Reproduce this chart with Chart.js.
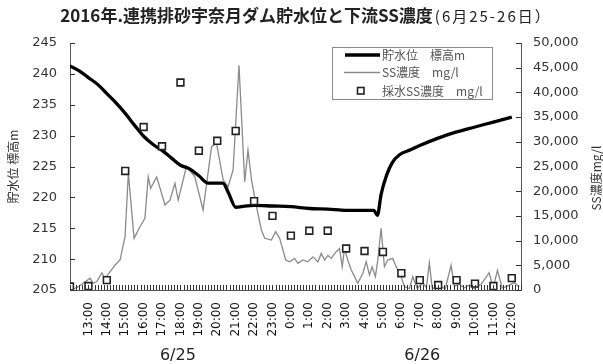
<!DOCTYPE html>
<html>
<head>
<meta charset="utf-8">
<script src="https://cdn.jsdelivr.net/npm/chart.js@4.4.1/dist/chart.umd.min.js"></script>
<style>
html, body { margin: 0; padding: 0; background: #fff; }
#wrap { width: 603px; height: 364px; }
</style>
</head>
<body>
<div id="wrap"><canvas id="chart"></canvas></div>
<script>
// times are hours counted from 6/25 0:00 (24 = 6/26 0:00)
const levelTimes = [12.0, 12.5, 13.0, 13.5, 14.0, 14.5, 15.0, 15.5, 16.0, 16.5, 17.0, 17.5, 18.0, 18.5,
    19.0, 19.5, 20.0, 20.3, 20.6, 21.0, 21.5, 22.0, 23.0, 24.0, 25.0, 26.0, 27.0, 28.0, 28.5,
    28.7, 28.9, 29.2, 29.5, 29.9, 30.5, 31.0, 32.0, 33.0, 34.0, 35.0, 36.0];
const levelValues = [241.3, 240.5, 239.4, 238.3, 236.8, 235.3, 233.6, 231.7, 229.9, 228.6, 227.6, 226.4, 225.2, 224.6,
    223.5, 222.3, 222.3, 222.3, 220.8, 218.4, 218.6, 218.7, 218.6, 218.5, 218.2, 218.1, 217.9, 217.9, 217.9,
    217.1, 220.5, 223.6, 225.6, 226.9, 227.7, 228.4, 229.6, 230.6, 231.4, 232.2, 233.0];

const ssTimes = [12.17, 12.46, 13.09, 13.27, 13.46, 13.73, 13.91, 14.18, 14.45, 14.72, 14.99, 15.17, 15.48, 15.80,
    16.07, 16.25, 16.38, 16.71, 17.16, 17.43, 17.70, 17.88, 18.33, 18.78, 19.23, 19.69, 19.96, 20.32,
    20.59, 20.86, 21.18, 21.49, 21.67, 21.86, 22.13, 22.40, 22.58, 22.94, 23.17, 23.39, 23.72, 23.93,
    24.20, 24.38, 24.65, 24.92, 25.20, 25.47, 25.65, 25.83, 26.01, 26.19, 26.46, 26.64, 26.79, 26.91,
    27.09, 27.28, 27.46, 27.63, 27.91, 28.09, 28.27, 28.41, 28.59, 28.72, 28.90, 29.08, 29.26, 29.53,
    29.72, 29.99, 30.17, 30.44, 30.62, 30.87, 31.16, 31.36, 31.52, 31.68, 32.06, 32.39, 32.70, 32.88,
    33.15, 33.42, 33.69, 33.96, 34.34, 34.77, 34.99, 35.22, 35.48, 35.75, 36.13, 36.40];
const ssValues = [200, 670, 2370, 1360, 1700, 3500, 2370, 3700, 5060, 6070, 10800, 23600, 10460, 12800,
    14500, 22900, 20580, 22900, 17200, 18200, 21600, 18200, 25100, 22900, 16200, 29000, 29700, 22300,
    20900, 24300, 45500, 21900, 28300, 22300, 16900, 12100, 10460, 10100, 11800, 10460, 6070, 5700,
    6400, 5400, 6070, 5700, 6700, 5700, 7400, 6070, 7000, 6400, 7750, 8400, 4700, 8400,
    6070, 4050, 2700, 1360, 3380, 5730, 3040, 4700, 2700, 6070, 12500, 4720, 6070, 6400,
    4700, 2700, 670, 300, 2700, 300, 1500, 500, 5500, 300, 800, 300, 5000, 800,
    1200, 400, 1000, 300, 1200, 3500, 500, 4000, 400, 800, 1500, 600];

const sampleTimes = [12, 13, 14, 15, 16, 17, 18, 19, 20, 21, 22, 23, 24, 25, 26, 27, 28, 29, 30, 31, 32, 33, 34, 35, 36];
const sampleValues = [700, 800, 2000, 24100, 33000, 29100, 42000, 28200, 30200, 32200, 18000, 15000, 11000,
    12000, 12000, 8400, 7900, 7700, 3400, 2000, 1000, 2000, 1300, 800, 2400];

const dayLabels = ['6/25', '6/26'];
const seriesNames = ['貯水位　標高m', 'SS濃度　mg/l', '採水SS濃度　mg/l'];

const toPoints = (times, values) => times.map((h, i) => ({ x: h * 60, y: values[i] }));

const decor = {
    id: 'decor',
    afterDraw(chart) {
        const ctx = chart.ctx;
        const xs = chart.scales.x;
        const ys = chart.scales.y;
        const ys2 = chart.scales.y2;
        const area = chart.chartArea;
        ctx.save();

        // inward tick marks on all three axes
        ctx.strokeStyle = '#333';
        ctx.lineWidth = 1;
        ctx.beginPath();
        for (const t of xs.ticks) {
            const px = Math.round(xs.getPixelForValue(t.value)) + 0.5;
            ctx.moveTo(px, area.bottom);
            ctx.lineTo(px, area.bottom - 5);
        }
        for (const t of ys.ticks) {
            const py = Math.round(ys.getPixelForValue(t.value)) + 0.5;
            ctx.moveTo(area.left, py);
            ctx.lineTo(area.left + 5, py);
        }
        for (const t of ys2.ticks) {
            const py = Math.round(ys2.getPixelForValue(t.value)) + 0.5;
            ctx.moveTo(area.right, py);
            ctx.lineTo(area.right - 5, py);
        }
        ctx.stroke();

        // title, main part bold and the dates smaller
        const main = '2016年.連携排砂宇奈月ダム貯水位と下流SS濃度';
        const sub = '(6月25-26日）';
        ctx.fillStyle = '#222';
        ctx.textBaseline = 'alphabetic';
        ctx.font = 'bold 17px "Noto Sans CJK JP"';
        const w1 = ctx.measureText(main).width;
        ctx.font = '15px "Noto Sans CJK JP"';
        ctx.letterSpacing = '2px';
        const w2 = ctx.measureText(sub).width;
        const tx = 305 - (w1 + w2) / 2;
        ctx.fillText(sub, tx + w1 + 2, 22);
        ctx.letterSpacing = '0px';
        ctx.font = 'bold 17px "Noto Sans CJK JP"';
        ctx.textAlign = 'left';
        ctx.fillText(main, tx, 22);

        // right axis title, reading upward
        ctx.save();
        ctx.translate(596, 178);
        ctx.rotate(-Math.PI / 2);
        ctx.textAlign = 'center';
        ctx.textBaseline = 'middle';
        ctx.font = '12px "Noto Sans CJK JP"';
        ctx.fillStyle = '#333';
        ctx.fillText('SS濃度mg/l', 0, 0);
        ctx.restore();

        // day labels under the hour ticks
        ctx.font = '16px "DejaVu Sans"';
        ctx.fillStyle = '#222';
        ctx.textAlign = 'center';
        ctx.textBaseline = 'middle';
        ctx.fillText(dayLabels[0], xs.getPixelForValue(17.86 * 60), 356);
        ctx.fillText(dayLabels[1], xs.getPixelForValue(31.14 * 60), 356);

        // legend box
        ctx.fillStyle = '#fff';
        ctx.fillRect(332, 47, 160, 52);
        ctx.strokeStyle = '#888';
        ctx.lineWidth = 1;
        ctx.strokeRect(332.5, 47.5, 160, 52);
        ctx.strokeStyle = '#000';
        ctx.lineWidth = 3.5;
        ctx.beginPath(); ctx.moveTo(345, 55); ctx.lineTo(380, 55); ctx.stroke();
        ctx.strokeStyle = '#8a8a8a';
        ctx.lineWidth = 1.3;
        ctx.beginPath(); ctx.moveTo(344, 72.5); ctx.lineTo(380, 72.5); ctx.stroke();
        ctx.fillStyle = '#fff';
        ctx.strokeStyle = '#222';
        ctx.lineWidth = 1.6;
        ctx.fillRect(357.5, 87.5, 6.5, 6.5);
        ctx.strokeRect(357.5, 87.5, 6.5, 6.5);
        ctx.font = '12px "Noto Sans CJK JP"';
        ctx.fillStyle = '#555';
        ctx.textAlign = 'left';
        ctx.fillText(seriesNames[0], 382, 55);
        ctx.fillText(seriesNames[1], 382, 72.5);
        ctx.fillText(seriesNames[2], 382, 91);
        ctx.restore();
    }
};

new Chart(document.querySelector('#chart'), {
    type: 'line',
    data: {
        datasets: [
            {
                label: seriesNames[2],
                data: toPoints(sampleTimes, sampleValues),
                yAxisID: 'y2',
                showLine: false,
                pointStyle: 'rect',
                pointRadius: 4.8,
                pointBorderWidth: 1.6,
                pointBorderColor: '#222',
                pointBackgroundColor: '#fff'
            },
            {
                label: seriesNames[0],
                data: toPoints(levelTimes, levelValues),
                yAxisID: 'y',
                borderColor: '#000',
                borderWidth: 3.3,
                pointRadius: 0,
                cubicInterpolationMode: 'monotone'
            },
            {
                label: seriesNames[1],
                data: toPoints(ssTimes, ssValues),
                yAxisID: 'y2',
                borderColor: '#8a8a8a',
                borderWidth: 1.3,
                pointRadius: 0,
                tension: 0
            }
        ]
    },
    options: {
        responsive: true,
        maintainAspectRatio: false,
        animation: false,
        layout: { padding: { top: 43, left: 0, right: 0, bottom: 0 } },
        plugins: { legend: { display: false }, tooltip: { enabled: false } },
        scales: {
            x: {
                type: 'linear',
                min: 720,
                max: 2190,
                afterFit: s => { s.height = 74; },
                grid: { drawOnChartArea: false, drawTicks: false },
                border: { color: '#555' },
                ticks: {
                    stepSize: 10,
                    maxTicksLimit: 1000,
                    autoSkip: false,
                    minRotation: 90,
                    maxRotation: 90,
                    padding: 12,
                    color: '#111',
                    font: { family: 'DejaVu Sans', size: 12 },
                    callback: v => (v % 60 === 0 && v >= 780 && v <= 2160) ? ((v / 60) % 24) + ':00' : ''
                }
            },
            y: {
                position: 'left',
                min: 205,
                max: 245,
                afterFit: s => { s.width = 70; },
                grid: { drawOnChartArea: false, drawTicks: false },
                border: { color: '#555' },
                ticks: { stepSize: 5, padding: 13, color: '#333', font: { family: 'DejaVu Sans', size: 13 } },
                title: { display: true, text: '貯水位 標高m', padding: 6, color: '#333', font: { family: 'Noto Sans CJK JP', size: 12 } }
            },
            y2: {
                position: 'right',
                min: 0,
                max: 50000,
                afterFit: s => { s.width = 82; },
                grid: { drawOnChartArea: false, drawTicks: false },
                border: { color: '#555' },
                ticks: {
                    stepSize: 5000,
                    padding: 12,
                    color: '#333',
                    font: { family: 'DejaVu Sans', size: 13 },
                    callback: v => v.toLocaleString('en-US')
                }
            }
        }
    },
    plugins: [decor]
});
</script>
</body>
</html>
